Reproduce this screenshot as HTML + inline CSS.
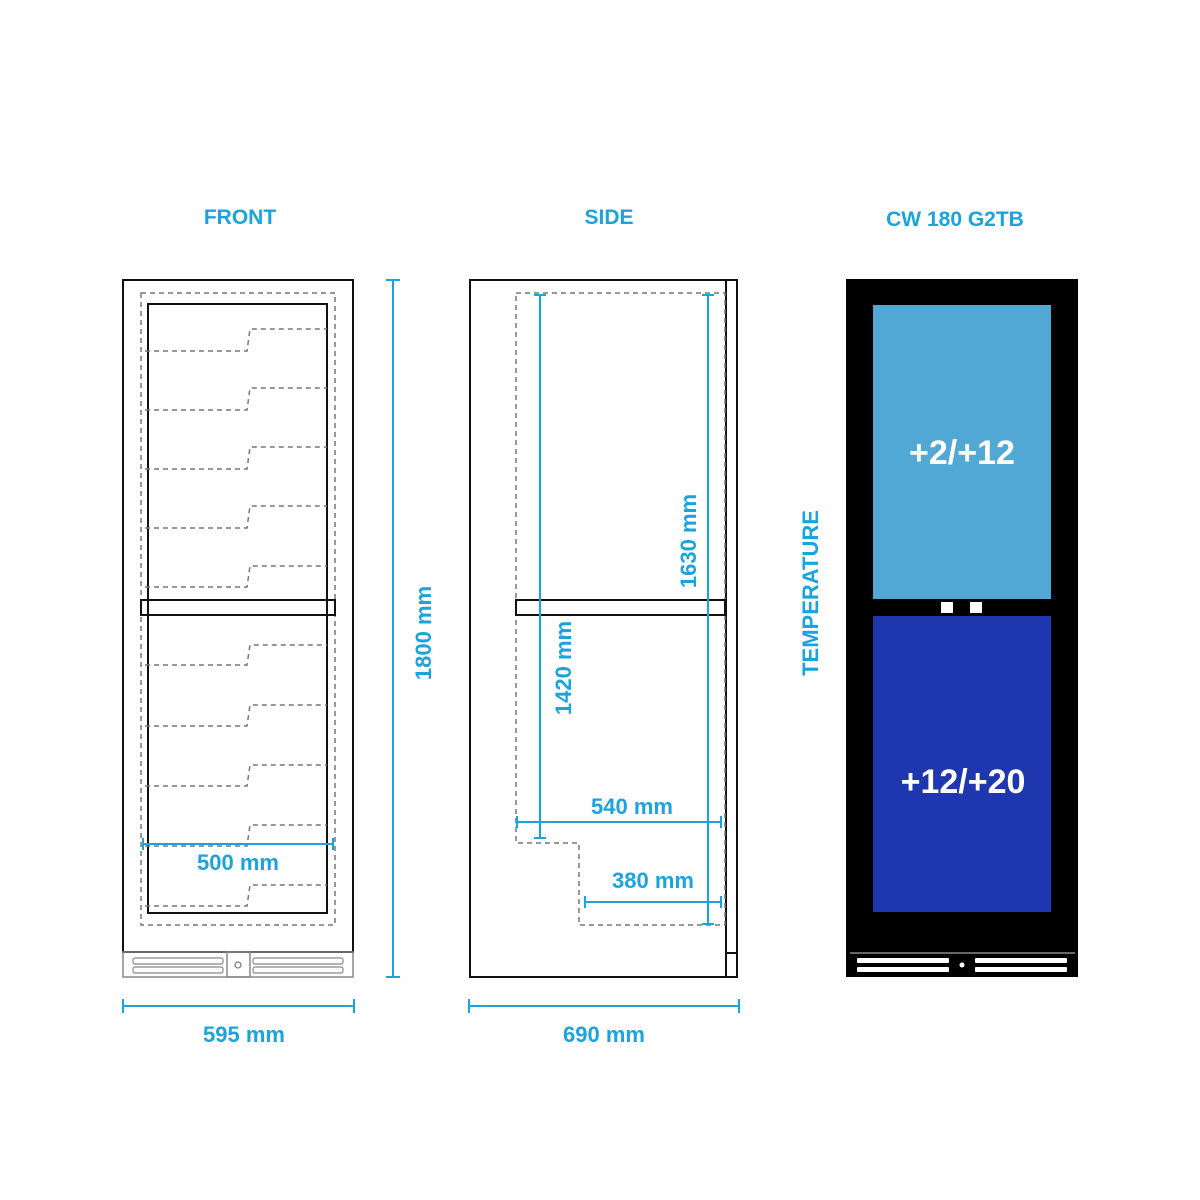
<!DOCTYPE html>
<html><head><meta charset="utf-8"><style>
html,body{margin:0;padding:0;background:#fff;width:1200px;height:1200px;overflow:hidden}
svg{display:block}
text{font-family:"Liberation Sans",sans-serif;font-weight:bold}
.t{fill:#1aa3dc;font-size:21px;text-anchor:middle}
.d{fill:#1aa3dc;font-size:22px;text-anchor:middle}
.dim{stroke:#1aa3dc;stroke-width:2;fill:none}
.dash{stroke:#777;stroke-width:1.5;stroke-dasharray:5,4;fill:none}
.blk{stroke:#111;stroke-width:2;fill:none}
</style></head><body>
<svg width="1200" height="1200" viewBox="0 0 1200 1200" xmlns="http://www.w3.org/2000/svg">
<text class="t" x="240" y="224">FRONT</text>
<text class="t" x="609" y="224">SIDE</text>
<text class="t" x="955" y="226">CW 180 G2TB</text>

<!-- FRONT -->
<rect x="123" y="280" width="230" height="672" class="blk"/>
<rect x="123" y="952" width="230" height="25" fill="none" stroke="#888" stroke-width="1.5"/>
<rect x="227" y="952" width="23" height="25" fill="none" stroke="#888" stroke-width="1.5"/>
<circle cx="238" cy="965" r="3" fill="none" stroke="#777" stroke-width="1.2"/>
<rect x="133" y="958" width="90" height="6" rx="2" fill="none" stroke="#888" stroke-width="1.2"/>
<rect x="133" y="967" width="90" height="6" rx="2" fill="none" stroke="#888" stroke-width="1.2"/>
<rect x="253" y="958" width="90" height="6" rx="2" fill="none" stroke="#888" stroke-width="1.2"/>
<rect x="253" y="967" width="90" height="6" rx="2" fill="none" stroke="#888" stroke-width="1.2"/>
<rect x="141" y="293" width="194" height="632" class="dash"/>
<rect x="148" y="304" width="179" height="609" class="blk"/>
<g class="dash">
<polyline points="145,351 247,351 250,329 327,329"/>
<polyline points="145,410 247,410 250,388 327,388"/>
<polyline points="145,469 247,469 250,447 327,447"/>
<polyline points="145,528 247,528 250,506 327,506"/>
<polyline points="145,587 247,587 250,566 327,566"/>
<polyline points="145,665 247,665 250,645 327,645"/>
<polyline points="145,726 247,726 250,705 327,705"/>
<polyline points="145,786 247,786 250,765 327,765"/>
<polyline points="145,846 247,846 250,825 327,825"/>
<polyline points="145,906 247,906 250,885 327,885"/>
</g>
<rect x="141" y="600" width="194" height="15" fill="#fff" class="blk"/>
<line x1="148" y1="600" x2="148" y2="615" class="blk"/>
<line x1="327" y1="600" x2="327" y2="615" class="blk"/>
<!-- 500 -->
<line x1="143" y1="844" x2="333" y2="844" class="dim"/>
<line x1="143" y1="838" x2="143" y2="850" class="dim"/>
<line x1="333" y1="838" x2="333" y2="850" class="dim"/>
<text class="d" x="238" y="870">500 mm</text>
<!-- 1800 -->
<line x1="393" y1="280" x2="393" y2="977" class="dim"/>
<line x1="386" y1="280" x2="400" y2="280" class="dim"/>
<line x1="386" y1="977" x2="400" y2="977" class="dim"/>
<text class="d" transform="translate(431,633) rotate(-90)">1800 mm</text>
<!-- 595 -->
<line x1="123" y1="1006" x2="354" y2="1006" class="dim"/>
<line x1="123" y1="999" x2="123" y2="1013" class="dim"/>
<line x1="354" y1="999" x2="354" y2="1013" class="dim"/>
<text class="d" x="244" y="1042">595 mm</text>

<!-- SIDE -->
<rect x="470" y="280" width="267" height="697" class="blk"/>
<line x1="726" y1="280" x2="726" y2="977" class="blk"/>
<line x1="726" y1="953" x2="737" y2="953" class="blk"/>
<polyline points="516,293 725,293 725,925 579,925 579,843 516,843 516,293" class="dash"/>
<rect x="516" y="600" width="209" height="15" fill="#fff" class="blk"/>
<!-- 1420 -->
<line x1="540" y1="295" x2="540" y2="838" class="dim"/>
<line x1="534" y1="295" x2="546" y2="295" class="dim"/>
<line x1="534" y1="838" x2="546" y2="838" class="dim"/>
<text class="d" transform="translate(571,668) rotate(-90)">1420 mm</text>
<!-- 1630 -->
<line x1="708" y1="295" x2="708" y2="924" class="dim"/>
<line x1="702" y1="295" x2="714" y2="295" class="dim"/>
<line x1="702" y1="924" x2="714" y2="924" class="dim"/>
<text class="d" transform="translate(696,541) rotate(-90)">1630 mm</text>
<!-- 540 -->
<line x1="517" y1="822" x2="721" y2="822" class="dim"/>
<line x1="517" y1="816" x2="517" y2="828" class="dim"/>
<line x1="721" y1="816" x2="721" y2="828" class="dim"/>
<text class="d" x="632" y="814">540 mm</text>
<!-- 380 -->
<line x1="585" y1="902" x2="721" y2="902" class="dim"/>
<line x1="585" y1="896" x2="585" y2="908" class="dim"/>
<line x1="721" y1="896" x2="721" y2="908" class="dim"/>
<text class="d" x="653" y="888">380 mm</text>
<!-- 690 -->
<line x1="469" y1="1006" x2="739" y2="1006" class="dim"/>
<line x1="469" y1="999" x2="469" y2="1013" class="dim"/>
<line x1="739" y1="999" x2="739" y2="1013" class="dim"/>
<text class="d" x="604" y="1042">690 mm</text>

<!-- TEMPERATURE -->
<text class="d" transform="translate(818,593) rotate(-90)">TEMPERATURE</text>

<!-- COLOR VIEW -->
<rect x="846" y="279" width="232" height="698" fill="#000"/>
<rect x="873" y="305" width="178" height="294" fill="#52a8d4"/>
<rect x="873" y="616" width="178" height="296" fill="#1f37ae"/>
<rect x="941" y="602" width="12" height="11" fill="#fff"/>
<rect x="970" y="602" width="12" height="11" fill="#fff"/>
<line x1="850" y1="953" x2="1075" y2="953" stroke="#888" stroke-width="1.5"/>
<rect x="857" y="958" width="92" height="5" rx="1" fill="#fff"/>
<rect x="857" y="967" width="92" height="5" rx="1" fill="#fff"/>
<rect x="975" y="958" width="92" height="5" rx="1" fill="#fff"/>
<rect x="975" y="967" width="92" height="5" rx="1" fill="#fff"/>
<circle cx="962" cy="965" r="2.5" fill="#fff"/>
<text x="962" y="464" fill="#fff" font-size="34" text-anchor="middle">+2/+12</text>
<text x="963" y="793" fill="#fff" font-size="34" text-anchor="middle">+12/+20</text>
</svg>
</body></html>
